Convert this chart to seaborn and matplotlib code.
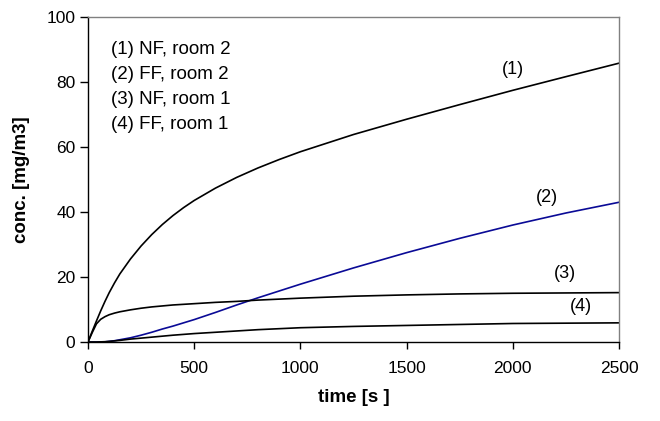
import matplotlib
matplotlib.use("Agg")
import matplotlib.pyplot as plt
import seaborn as sns
import pandas as pd

# Sampled concentration curves
time_s = [0, 20, 40, 60, 80, 100, 125, 150, 200, 250, 300, 350, 400, 450,
          500, 600, 700, 800, 900, 1000, 1250, 1500, 1750, 2000, 2250, 2500]
nf_room2 = [0, 3.3, 6.5, 9.6, 12.5, 15.2, 18.2, 20.95, 25.55, 29.55, 33.05, 36.15, 38.9, 41.35,
            43.55, 47.35, 50.65, 53.55, 56.15, 58.55, 63.85, 68.55, 73.05, 77.45, 81.65, 85.8]
ff_room2 = [0, 0, 0, 0, 0.05, 0.2, 0.4, 0.7, 1.3, 2.1, 3.0, 4.0, 4.9, 5.9,
            6.9, 9.1, 11.4, 13.6, 15.7, 17.8, 22.8, 27.5, 31.9, 36.0, 39.7, 43.0]
nf_room1 = [0, 2.9, 5.6, 7.0, 7.8, 8.4, 8.9, 9.3, 9.9, 10.4, 10.8, 11.1, 11.4, 11.6,
            11.8, 12.2, 12.5, 12.9, 13.2, 13.5, 14.1, 14.5, 14.8, 15.0, 15.1, 15.2]
ff_room1 = [0, 0, 0, 0.05, 0.1, 0.2, 0.35, 0.5, 0.9, 1.2, 1.5, 1.8, 2.1, 2.35,
            2.6, 3.0, 3.4, 3.8, 4.1, 4.4, 4.8, 5.1, 5.4, 5.7, 5.8, 5.9]

series_names = ["(1) NF, room 2", "(2) FF, room 2", "(3) NF, room 1", "(4) FF, room 1"]
series_tags = ["(1)", "(2)", "(3)", "(4)"]
series_colors = ["black", "#0a0a96", "black", "black"]
tag_pos = [(2001, 84), (2161, 44.6), (2246, 21.2), (2321, 10.8)]

frames = []
for name, vals in zip(series_names, [nf_room2, ff_room2, nf_room1, ff_room1]):
    frames.append(pd.DataFrame({"time": time_s, "conc": vals, "series": name}))
df = pd.concat(frames, ignore_index=True)

sns.set_style("white")
plt.rcParams["font.family"] = ["Liberation Sans", "DejaVu Sans"]
plt.rcParams["text.color"] = "black"
plt.rcParams["axes.labelcolor"] = "black"

fig = plt.figure(figsize=(6.6, 4.21), dpi=100)
ax = fig.add_axes([0.1333, 0.1876, 0.8047, 0.772])

sns.lineplot(data=df, x="time", y="conc", hue="series", palette=series_colors,
             hue_order=series_names, linewidth=1.2, legend=False, ax=ax)

ax.set_xlim(0, 2500)
ax.set_ylim(0, 100)
ax.set_xticks([0, 500, 1000, 1500, 2000, 2500])
ax.set_yticks([0, 20, 40, 60, 80, 100])
ax.tick_params(axis="both", direction="out", width=1, colors="black",
               labelsize=12.5, bottom=True, left=True, top=False, right=False)
ax.tick_params(axis="x", length=5, pad=9)
ax.tick_params(axis="y", length=6, pad=3)

for side in ["left", "bottom"]:
    ax.spines[side].set_color("black")
    ax.spines[side].set_linewidth(1.0)
for side in ["top", "right"]:
    ax.spines[side].set_color("#808080")
    ax.spines[side].set_linewidth(1.0)

ax.set_xlabel("time [s ]", fontsize=13.5, fontweight="bold", labelpad=9)
ax.set_ylabel("conc. [mg/m3]", fontsize=13.5, fontweight="bold", labelpad=12)

# Series key in the upper-left corner
for i, name in enumerate(series_names):
    ax.text(0.043, 0.900 - i * 0.0769, name, transform=ax.transAxes,
            fontsize=13.5, va="center", ha="left", color="black")

# Curve tags
for tag, (tx, ty) in zip(series_tags, tag_pos):
    ax.text(tx, ty, tag, fontsize=13, ha="center", va="center", color="black")

fig.savefig("out.png", dpi=100)
